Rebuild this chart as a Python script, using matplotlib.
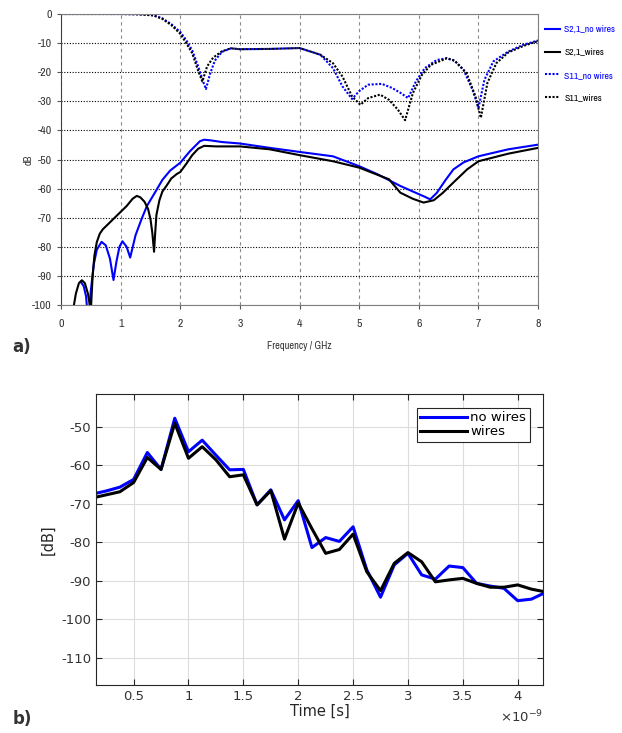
import numpy as np
import matplotlib
matplotlib.use("Agg")
import matplotlib.pyplot as plt
from matplotlib import font_manager
from matplotlib.ticker import FuncFormatter

plt.rcParams["axes.unicode_minus"] = False

# ---- a) S-parameters vs frequency (GHz, dB) ----
f_s11_nw = [0, 0.5, 1.0, 1.3, 1.55, 1.7, 1.85, 2.0, 2.1, 2.2, 2.3, 2.38, 2.43, 2.5, 2.58,
            2.7, 2.85, 3.0, 3.5, 4.0, 4.35, 4.56, 4.72, 4.88, 5.0, 5.15, 5.38, 5.55, 5.7,
            5.82, 5.95, 6.1, 6.3, 6.47, 6.6, 6.75, 6.9, 7.0, 7.1, 7.25, 7.5, 7.75, 8.0]
s11_nw = [0, 0, 0, -0.1, -0.4, -1.5, -3.5, -6.2, -9, -12.5, -18, -23, -25.8, -20.5, -16,
          -13, -11.8, -12.1, -12, -11.7, -14, -18.6, -24.9, -29.2, -26.5, -24.3, -24, -25.4, -27.2,
          -28.9, -23.2, -18.6, -15.8, -15.2, -16.1, -19.2, -26, -32.3, -22.6, -16.3, -12.9, -10.6, -9.1]

f_s11_w = [0, 0.5, 1.0, 1.3, 1.55, 1.7, 1.85, 2.0, 2.1, 2.2, 2.3, 2.37, 2.45, 2.55, 2.7,
           2.85, 3.0, 3.5, 4.0, 4.35, 4.56, 4.72, 4.88, 5.02, 5.15, 5.35, 5.5, 5.65, 5.77,
           5.9, 6.05, 6.2, 6.47, 6.6, 6.8, 6.95, 7.04, 7.15, 7.3, 7.5, 7.75, 8.0]
s11_w = [0, 0, 0, -0.1, -0.5, -1.7, -3.8, -6.8, -10, -13.5, -19.5, -23.2, -18, -15, -12.8,
         -11.8, -12.1, -12, -11.7, -14, -16.9, -21.5, -28.3, -31.2, -28.9, -27.7, -29.5, -32.9, -36.5,
         -27.2, -21, -17.5, -15.2, -16, -20.3, -28.3, -35.7, -23.7, -16.9, -13.2, -11, -9.3]

f_s21_nw = [0.33, 0.38, 0.42, 0.44, 0.46, 0.5, 0.55, 0.6, 0.68, 0.75, 0.82, 0.88, 0.93, 0.98,
            1.03, 1.1, 1.16, 1.25, 1.35, 1.44, 1.6, 1.7, 1.83, 2.0, 2.16, 2.33, 2.4, 2.5, 2.7,
            3.0, 3.5, 4.0, 4.56, 5.0, 5.3, 5.69, 5.9, 6.1, 6.19, 6.3, 6.45, 6.58, 6.75, 7.0, 7.5, 8.0]
s21_nw = [-92, -93.5, -97, -102, -105, -95, -86, -81, -78.3, -79.5, -84, -91.4, -85, -80,
          -78.1, -80, -83.7, -76, -70.5, -66, -60.5, -57, -53.8, -51.1, -47.2, -43.7, -43.2, -43.4, -44,
          -44.5, -46, -47.4, -48.9, -52.3, -55, -59.1, -61, -62.8, -63.7, -61.5, -57, -53.4, -51, -48.9, -46.5, -44.9]

f_s21_w = [0.2, 0.25, 0.3, 0.35, 0.4, 0.45, 0.5, 0.53, 0.56, 0.6, 0.65, 0.7, 0.8, 0.9, 1.0,
           1.1, 1.2, 1.27, 1.33, 1.4, 1.46, 1.5, 1.53, 1.56, 1.58, 1.6, 1.65, 1.7, 1.77, 1.85,
           1.94, 2.0, 2.1, 2.2, 2.3, 2.4, 2.6, 3.0, 3.5, 4.0, 4.56, 5.0, 5.5, 5.69, 5.9, 6.08,
           6.25, 6.4, 6.6, 6.81, 7.0, 7.5, 8.0]
s21_w = [-102, -96, -92.5, -91.5, -92.5, -96, -102, -90, -83, -78.4, -75.5, -74, -72, -70, -68,
         -66, -63.5, -62.5, -63, -64.5, -67, -70.5, -75, -81.7, -75, -69, -64, -61, -59, -56.5,
         -55, -54.3, -51.5, -48.5, -46.3, -45.3, -45.5, -45.5, -46.5, -48.5, -50.6, -52.8, -56.8, -61.4, -63.5, -64.8,
         -64, -61.5, -57.5, -53.4, -50.6, -48, -46]

# ---- b) time domain (ns, dB) ----
t_ns = [0.157, 0.25, 0.375, 0.5, 0.625, 0.75, 0.875, 1.0, 1.125, 1.25, 1.375, 1.5, 1.625,
        1.75, 1.875, 2.0, 2.125, 2.25, 2.375, 2.5, 2.625, 2.75, 2.875, 3.0, 3.125, 3.25,
        3.375, 3.5, 3.625, 3.75, 3.875, 4.0, 4.125, 4.25]
td_nw = [-67.3, -66.7, -65.7, -63.7, -56.7, -61.1, -47.8, -56.5, -53.5, -57.4, -61.2, -61.1, -70.3,
         -66.4, -74.2, -69.2, -81.4, -78.8, -79.8, -76, -87.2, -94.3, -85.9, -82.9, -88.5, -89.6,
         -86.2, -86.6, -90.7, -91.4, -92, -95.2, -94.8, -93.1]
td_w = [-68.3, -67.7, -66.9, -64.5, -58, -61.1, -49.1, -58.2, -55.2, -58.6, -63, -62.5, -70.3,
        -66.6, -79.2, -69.8, -76.5, -82.9, -81.9, -77.9, -87.7, -92.6, -85.5, -82.7, -85.1, -90.3,
        -89.8, -89.4, -90.7, -91.7, -91.7, -91.1, -92.2, -92.9]

BLUE = "#0000ff"

# pick a narrow font for the top panel if one is installed
narrow_name = None
for fe in font_manager.fontManager.ttflist:
    if "Narrow" in fe.name or "Condensed" in fe.name:
        narrow_name = fe.name
        break
narrow = [narrow_name, "DejaVu Sans"] if narrow_name else ["DejaVu Sans"]
nfont = dict(family=narrow, stretch="condensed")

fig = plt.figure(figsize=(6.22, 7.33), dpi=100)

# ---------------- top panel ----------------
ax1 = fig.add_axes([0.0981, 0.5839, 0.767, 0.397])
ax1.plot(f_s21_nw, s21_nw, color=BLUE, lw=1.5, label="S2,1_no wires")
ax1.plot(f_s21_w, s21_w, color="k", lw=1.5, label="S2,1_wires")
ax1.plot(f_s11_nw, s11_nw, color=BLUE, lw=1.5, ls=(0, (1, 0.8)), label="S11_no wires")
ax1.plot(f_s11_w, s11_w, color="k", lw=1.5, ls=(0, (1, 0.8)), label="S11_wires")
ax1.set_xlim(0, 8)
ax1.set_ylim(-100, 0)
ax1.set_xticks(range(0, 9))
ax1.set_yticks(range(-100, 1, 10))
ax1.yaxis.grid(True, ls=(0, (1, 1.5)), color="k", lw=0.8)
ax1.xaxis.grid(True, ls=(0, (3, 3)), color="#8c8c8c", lw=0.8)
ax1.set_axisbelow(True)
for s in ax1.spines.values():
    s.set_color("#7f7f7f")
ax1.spines["left"].set_color("#404040")
ax1.tick_params(direction="out", length=3, width=0.8, color="#555555",
                labelsize=8.5, labelcolor="#333333")
ax1.tick_params(axis="x", pad=7)
for lab in ax1.get_xticklabels() + ax1.get_yticklabels():
    lab.set_family(narrow)
    lab.set_stretch("condensed")
ax1.set_xlabel("Frequency / GHz", fontsize=7.5, color="#333333", labelpad=9, **nfont)
ax1.set_ylabel("dB", fontsize=7.5, color="#333333", **nfont)
ax1.yaxis.set_label_coords(-0.058, 0.5)
ax1.legend(loc="upper left", bbox_to_anchor=(1.0, 0.985), frameon=False,
           labelcolor="linecolor", handlelength=1.6, handletextpad=0.4,
           labelspacing=1.42, borderaxespad=0.3,
           prop={"family": narrow, "stretch": "condensed", "size": 7})
fig.text(0.02, 0.52, "a)", fontsize=12, fontweight="bold", color="#333333")

# ---------------- bottom panel ----------------
ax2 = fig.add_axes([0.1543, 0.0655, 0.7186, 0.397])
t_s = np.array(t_ns) * 1e-9
ax2.plot(t_s, td_nw, color=BLUE, lw=2.2, label="no wires")
ax2.plot(t_s, td_w, color="k", lw=2.2, label="wires")
ax2.set_xlim(0.157e-9, 4.23e-9)
ax2.set_ylim(-117.1, -41.5)
ax2.set_xticks(np.arange(0.5, 4.01, 0.5) * 1e-9)
ax2.set_yticks(range(-110, -49, 10))
ax2.xaxis.set_major_formatter(FuncFormatter(lambda v, pos: f"{v * 1e9:g}"))
ax2.text(1.0, -0.11, r"$\times10^{-9}$", transform=ax2.transAxes, ha="right", va="center",
         fontsize=9.5, color="#333333")
ax2.grid(True, color="#dcdcdc", lw=0.8)
ax2.set_axisbelow(True)
for s in ax2.spines.values():
    s.set_color("#262626")
    s.set_linewidth(0.8)
ax2.tick_params(direction="in", length=4, width=0.8, color="#262626",
                top=True, right=True, labelsize=9.5, labelcolor="#333333")
ax2.set_xlabel("Time [s]", fontsize=10.5, color="#262626", labelpad=1)
ax2.set_ylabel("[dB]", fontsize=10.5, color="#262626", labelpad=4)
leg = ax2.legend(loc="upper right", bbox_to_anchor=(0.985, 0.975), fontsize=9.5,
                 fancybox=False, framealpha=1, edgecolor="#262626",
                 handlelength=3.5, handletextpad=0.3, borderpad=0.25, labelspacing=0.1)
leg.get_frame().set_linewidth(0.8)
fig.text(0.02, 0.012, "b)", fontsize=12, fontweight="bold", color="#333333")

fig.savefig("out.png", dpi=100)
